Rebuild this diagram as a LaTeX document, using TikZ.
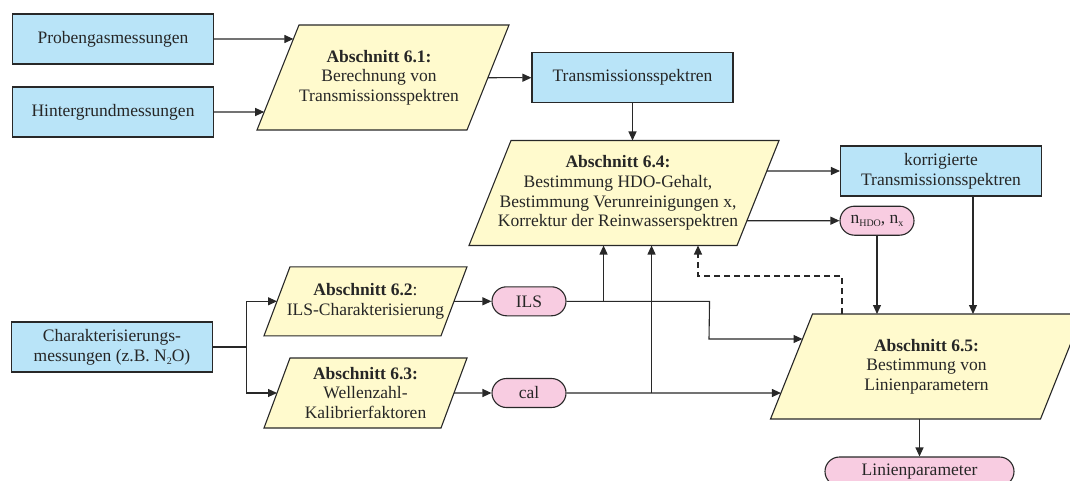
\documentclass[tikz,border=0pt]{standalone}
\usepackage{fontspec}
\setmainfont{Liberation Serif}
\usetikzlibrary{arrows.meta,calc}
\definecolor{boxblue}{RGB}{185,228,248}
\definecolor{boxyellow}{RGB}{255,250,205}
\definecolor{boxpink}{RGB}{248,204,225}
\definecolor{linegray}{RGB}{40,40,40}
\newcommand\mysub[1]{\raisebox{-3.5pt}{\fontsize{10pt}{10pt}\selectfont #1}}
% [node options] name cx cy L H slant text
\newcommand\paranode[8][]{%
  \path[parashape] ({#3-#5/2+#7/2},{#4-#6/2}) coordinate (#2tl)
     -- ({#3+#5/2+#7/2},{#4-#6/2}) coordinate (#2tr)
     -- ({#3+#5/2-#7/2},{#4+#6/2}) coordinate (#2br)
     -- ({#3-#5/2-#7/2},{#4+#6/2}) coordinate (#2bl) -- cycle;
  \coordinate (#2l) at ($(#2bl)!0.5!(#2tl)$);
  \coordinate (#2r) at ($(#2br)!0.5!(#2tr)$);
  \node[ptext,#1] (#2) at (#3,#4) {#8};
}
\tikzset{
  base/.style={draw=linegray, line width=1.1pt},
  bluebox/.style={base, fill=boxblue, minimum width=201pt, minimum height=50pt, inner sep=0pt, align=center},
  pill/.style={base, fill=boxpink, rounded corners=14.5pt, minimum width=74pt, minimum height=29pt, inner sep=0pt},
  parashape/.style={base, fill=boxyellow},
  ptext/.style={align=center, inner sep=0pt},
  conn/.style={line width=1.1pt, draw=linegray, -{Triangle[length=9pt,width=8pt]}},
}
\begin{document}
\begin{tikzpicture}[x=1pt, y=-1pt, font=\fontsize{17.5pt}{19.7pt}\selectfont, text=black!85]
\useasboundingbox (0,0) rectangle (1070,481);
\clip (0,0) rectangle (1070,481);

% blue boxes
\node[bluebox] (P) at (113,39) {Probengasmessungen};
\node[bluebox] (H) at (113,112) {Hintergrundmessungen};
\node[bluebox] (C) at (112,347) {Charakterisierungs-\\messungen (z.B. N\mysub{2}O)};
\node[bluebox] (T) at (632.5,77.7) {Transmissionsspektren};
\node[bluebox] (K) at (941,171) {korrigierte\\Transmissionsspektren};

% parallelograms
\paranode[xshift=-4pt]{a61}{383}{77.5}{210}{105}{42}{\textbf{Abschnitt 6.1:}\\Berechnung von\\Transmissionsspektren}
\paranode[xshift=-6pt]{a64}{624}{193}{268}{105}{42}{\textbf{Abschnitt 6.4:}\\Bestimmung HDO-Gehalt,\\Bestimmung Verunreinigungen x,\\Korrektur der Reinwasserspektren}
\paranode{a62}{365.5}{301.3}{177}{69}{26}{\textbf{Abschnitt 6.2}:\\ILS-Charakterisierung}
\paranode{a63}{365.5}{393}{177}{70}{26}{\textbf{Abschnitt 6.3:}\\Wellenzahl-\\Kalibrierfaktoren}
\paranode{a65}{926.5}{366.5}{270}{105}{42}{\textbf{Abschnitt 6.5:}\\Bestimmung von\\Linienparametern}

% pills
\node[pill] (N) at (877,220.7) {n\mysub{HDO}, n\mysub{x}};
\node[pill] (ILS) at (529,301.3) {ILS};
\node[pill] (cal) at (529,393) {cal};
\node[pill, minimum width=189pt] (LP) at (919.5,471.5) {Linienparameter};

% helper coordinates
\coordinate (ilsA) at ($(ILS.east)+(37,0)$);
\coordinate (ilsB) at ($(ILS.east)+(143,0)$);
\coordinate (ilsC) at (709,339);
\coordinate (ilsD) at (720,339);
\coordinate (calA) at ($(cal.east)+(85,0)$);
\coordinate (kx) at ($(K.south)+(32,0)$);
\coordinate (dx) at (842,276);
\coordinate (dy) at (698,276);
\coordinate (br) at ($(C.east)+(33,0)$);

% connectors
\draw[conn] (P.east) -- (intersection of P.west--P.east and a61bl--a61tl);
\draw[conn] (H.east) -- (intersection of H.west--H.east and a61bl--a61tl);
\draw[conn] (intersection of T.west--T.east and a61br--a61tr) -- (T.west);
\draw[conn] (T.south) -- (T.south |- a64tl);
\draw[conn] (intersection of K.west--K.east and a64br--a64tr) -- (K.west);
\draw[conn] (intersection of N.west--N.east and a64br--a64tr) -- (N.west);
\draw[conn] (N.south) -- (N.south |- a65tl);
\draw[conn] (kx) -- (kx |- a65tl);
\draw[conn, dash pattern=on 6pt off 4pt] (dx |- a65tl) -- (dx) -- (dy) -- (dy |- a64bl);

\draw[conn] (C.east) -- (br) |- (a62l);
\draw[conn] (br) |- (a63l);
\draw[conn] (a62r) -- (ILS.west);
\draw[conn] (intersection of cal.west--cal.east and a63br--a63tr) -- (cal.west);

\draw[conn] (ILS.east) -- (ilsB) -- (ilsC) -- (intersection of ilsC--ilsD and a65bl--a65tl);
\draw[conn] (ilsA) -- (ilsA |- a64bl);
\draw[conn] (cal.east) -- (intersection of cal.west--cal.east and a65bl--a65tl);
\draw[conn] (calA) -- (calA |- a64bl);
\draw[conn] (LP.north |- a65bl) -- (LP.north);
\end{tikzpicture}
\end{document}
